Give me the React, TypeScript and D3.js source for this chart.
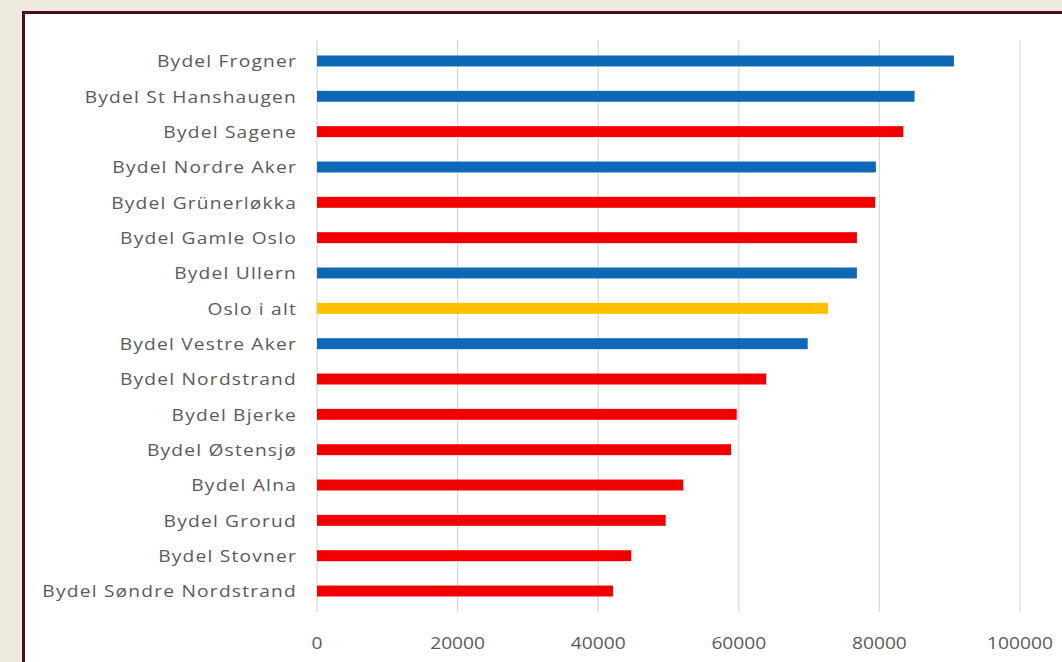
import React from "react";
import * as d3 from "d3";

const categories = [
  "Bydel Frogner",
  "Bydel St Hanshaugen",
  "Bydel Sagene",
  "Bydel Nordre Aker",
  "Bydel Grünerløkka",
  "Bydel Gamle Oslo",
  "Bydel Ullern",
  "Oslo i alt",
  "Bydel Vestre Aker",
  "Bydel Nordstrand",
  "Bydel Bjerke",
  "Bydel Østensjø",
  "Bydel Alna",
  "Bydel Grorud",
  "Bydel Stovner",
  "Bydel Søndre Nordstrand",
];
const values = [
  90600, 85000, 83400, 79500, 79400, 76800, 76800, 72700, 69800, 63900, 59700,
  58900, 52100, 49600, 44700, 42100,
];
const groups = [
  "blue", "blue", "red", "blue", "red", "red", "blue", "total", "blue", "red",
  "red", "red", "red", "red", "red", "red",
];
const ticks = [0, 20000, 40000, 60000, 80000, 100000];

const colorOf: Record<string, string> = {
  blue: "#0f68b6",
  red: "#f20000",
  total: "#ffc000",
};

export default function App() {
  const W = 1062;
  const H = 662;
  const x = d3.scaleLinear().domain([0, 100000]).range([317, 1020]);
  const y = d3
    .scaleBand<string>()
    .domain(categories)
    .range([43.3, 608.7])
    .paddingInner(0.69)
    .paddingOuter(0.345);
  const font = "'Open Sans', 'DejaVu Sans', sans-serif";
  return (
    <svg
      width={W}
      height={H}
      style={{ position: "absolute", left: 0, top: 0 }}
      xmlns="http://www.w3.org/2000/svg"
    >
      <rect x={0} y={0} width={W} height={H} fill="#eeeae0" />
      <rect x={23.5} y={12.5} width={W + 10} height={H + 10} fill="#ffffff" stroke="#4b1020" strokeWidth={3} />
      {ticks.map((t) => (
        <line key={"g" + t} x1={x(t)} x2={x(t)} y1={40} y2={612} stroke="#d9d9d9" strokeWidth={1.2} />
      ))}
      {categories.map((c, i) => (
        <rect
          key={"b" + c}
          x={x(0)}
          y={y(c)}
          width={x(values[i]) - x(0)}
          height={y.bandwidth()}
          fill={colorOf[groups[i]]}
        />
      ))}
      {categories.map((c) => (
        <text
          key={"l" + c}
          transform={`translate(297,${(y(c) as number) + y.bandwidth() / 2}) scale(1.2,1)`}
          textAnchor="end"
          dominantBaseline="central"
          fontFamily={font}
          fontSize={16}
          letterSpacing={1}
          fill="#5a5a5a"
        >
          {c}
        </text>
      ))}
      {ticks.map((t) => (
        <text
          key={"t" + t}
          transform={`translate(${x(t)},649) scale(1.2,1)`}
          textAnchor="middle"
          fontFamily={font}
          fontSize={16}
          fill="#5a5a5a"
        >
          {t}
        </text>
      ))}
    </svg>
  );
}
